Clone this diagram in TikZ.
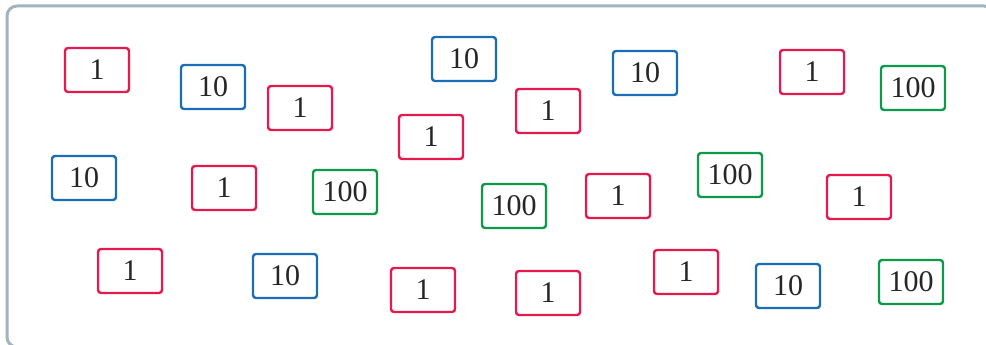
\documentclass[tikz,border=0pt]{standalone}
\usepackage{fontspec}
\setmainfont{Liberation Serif}
\definecolor{onered}{HTML}{E6194F}
\definecolor{tenblue}{HTML}{1B6DB5}
\definecolor{hundredgreen}{HTML}{0C9A4A}
\definecolor{framegray}{HTML}{A0B5BE}
\tikzset{
  chip/.style={draw, line width=2.4pt, rounded corners=3pt, fill=white,
    minimum width=64pt, minimum height=44pt, inner sep=0pt,
    font=\fontsize{30}{36}\selectfont, text=black!85},
  onechip/.style={chip, draw=onered},
  tenchip/.style={chip, draw=tenblue},
  hundredchip/.style={chip, draw=hundredgreen}
}

\begin{document}
\begin{tikzpicture}[x=1pt, y=-1pt]
      \useasboundingbox (0, 0) rectangle (986, 345);
      \begin{scope}
        \clip (0, 0) rectangle (986, 345);
        \draw [framegray, line width=3pt, rounded corners=10pt] (7, 6) rectangle (994, 347);
      \end{scope}

      % top row
      \node (a1) at (97, 70) [onechip] {1};
      \node (a2) at (213, 87) [tenchip] {10};
      \node (a3) at (300, 108) [onechip] {1};
      \node (a4) at (464, 59) [tenchip] {10};
      \node (a5) at (431, 137) [onechip] {1};
      \node (a6) at (548, 111) [onechip] {1};
      \node (a7) at (645, 73) [tenchip] {10};
      \node (a8) at (812, 72) [onechip] {1};
      \node (a9) at (913, 88) [hundredchip] {100};

      % middle row
      \node (b1) at (84, 178) [tenchip] {10};
      \node (b2) at (224, 188) [onechip] {1};
      \node (b3) at (345, 192) [hundredchip] {100};
      \node (b4) at (514, 206) [hundredchip] {100};
      \node (b5) at (618, 196) [onechip] {1};
      \node (b6) at (730, 175) [hundredchip] {100};
      \node (b7) at (859, 197) [onechip] {1};

      % bottom row
      \node (c1) at (130, 271) [onechip] {1};
      \node (c2) at (285, 276) [tenchip] {10};
      \node (c3) at (423, 290) [onechip] {1};
      \node (c4) at (548, 293) [onechip] {1};
      \node (c5) at (686, 272) [onechip] {1};
      \node (c6) at (788, 286) [tenchip] {10};
      \node (c7) at (911, 282) [hundredchip] {100};
    \end{tikzpicture}
\end{document}
